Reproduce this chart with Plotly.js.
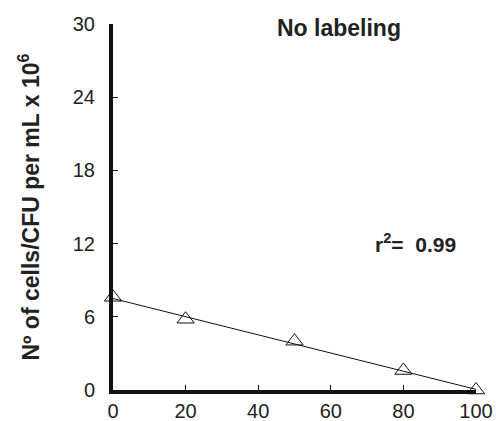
<!DOCTYPE html>
<html><head><meta charset="utf-8">
<script src="https://cdn.plot.ly/plotly-3.0.1.min.js"></script>
<style>html,body{margin:0;padding:0;background:#fff}#chart{width:496px;height:421px}</style>
</head><body><div id="chart"></div>
<script>
const xValues = [0, 20, 50, 80, 100];
const yValues = [7.6, 5.8, 4.0, 1.6, 0.0];
const fitX = [0, 100];
const fitY = [7.5, 0.05];
const yTicks = [0, 6, 12, 18, 24, 30];
const xTicks = [0, 20, 40, 60, 80, 100];
const panelTitle = 'No labeling';
const rSquared = '0.99';

const traces = [
  {x: fitX, y: fitY, mode: 'lines', line: {color: '#111', width: 1}, hoverinfo: 'skip', cliponaxis: false},
  {x: xValues, y: yValues, mode: 'markers', cliponaxis: false,
   marker: {symbol: 'triangle-up-open', size: 15, color: '#111', line: {width: 1, color: '#111'}}}
];
const fam = 'Liberation Sans, Arial, sans-serif';
const tickFont = {size: 20, family: fam, color: '#222'};
const boldFont = {size: 23, family: fam, color: '#222'};
const layout = {
  width: 496, height: 421,
  margin: {l: 113, r: 20, t: 24, b: 31},
  paper_bgcolor: '#fff', plot_bgcolor: '#fff',
  showlegend: false,
  font: {family: fam, color: '#222'},
  xaxis: {range: [0, 100], tickvals: xTicks, ticktext: xTicks.map(String),
    showgrid: false, zeroline: false, showline: true, linecolor: '#111', linewidth: 4,
    ticks: 'inside', ticklen: 5, tickwidth: 1.2, tickcolor: '#111',
    tickfont: tickFont, ticklabelstandoff: 0},
  yaxis: {range: [0, 30], tickvals: yTicks, ticktext: yTicks.map(String),
    showgrid: false, zeroline: false, showline: true, linecolor: '#111', linewidth: 4,
    ticks: 'inside', ticklen: 5, tickwidth: 1.2, tickcolor: '#111',
    tickfont: tickFont, ticklabelstandoff: 10,
    title: {text: '<b>Nº of cells/CFU per mL x 10<sup>6</sup></b>', standoff: 28, font: boldFont}},
  annotations: [
    {text: '<b>' + panelTitle + '</b>', xref: 'paper', yref: 'paper', x: 0.623, y: 0.99,
     xanchor: 'center', yanchor: 'middle', showarrow: false, font: boldFont},
    {text: '<b>r<sup>2</sup>=  ' + rSquared + '</b>', xref: 'paper', yref: 'paper', x: 0.832, y: 0.402,
     xanchor: 'center', yanchor: 'middle', showarrow: false, font: {size: 21, family: fam, color: '#222'}}
  ]
};
Plotly.newPlot('chart', traces, layout, {displayModeBar: false, staticPlot: true});
</script></body></html>
